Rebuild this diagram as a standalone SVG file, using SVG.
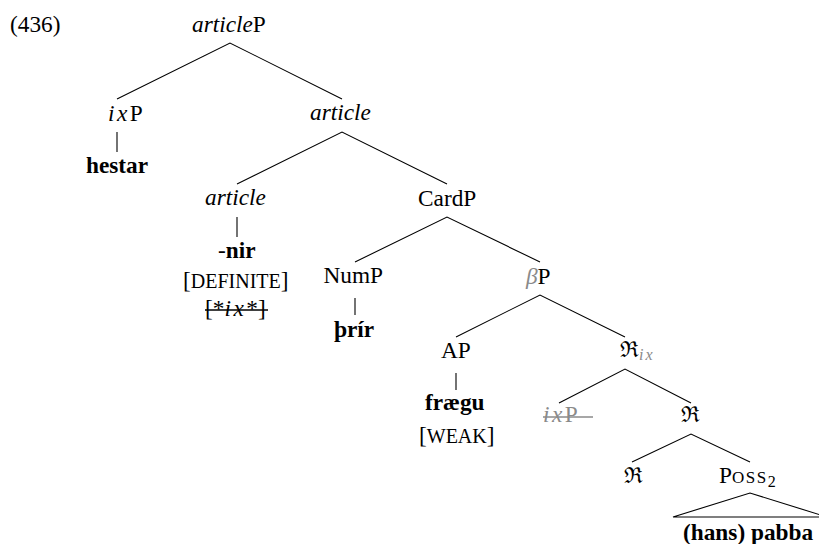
<svg xmlns="http://www.w3.org/2000/svg" width="819" height="544" viewBox="0 0 819 544">
<style>
text { font-family: 'Liberation Serif', 'Times New Roman', serif; font-size: 23.3px; fill: #000; }
.i { font-style: italic; }
.m { font-style: italic; letter-spacing: 2.5px; }
.b { font-weight: bold; }
.g { fill: #8a8a8a; }
.sc { font-size: 20px; }
.fr { font-family: 'DejaVu Serif', serif; font-size: 22px; }
.sub { font-size: 16px; }
.edge { stroke: #000; stroke-width: 1.1; fill: none; }
.strike { stroke: #000; stroke-width: 1.4; }
.strikeg { stroke: #8a8a8a; stroke-width: 1.4; }
</style>
<text id="ex-num" x="10" y="32">(436)</text>
<g id="connectors">
<path class="edge" d="M117,99 L230,43 L342,99"/>
<path class="edge" d="M117,132 L117,152"/>
<path class="edge" d="M237,184 L342,132 L447,184"/>
<path class="edge" d="M237,217 L237,237"/>
<path class="edge" d="M355,262 L447,217 L540,262"/>
<path class="edge" d="M355,298 L355,315"/>
<path class="edge" d="M456,337 L540,295 L625,337"/>
<path class="edge" d="M456,373 L456,390"/>
<path class="edge" d="M559,403 L625,369 L691,403"/>
<path class="edge" d="M632,462 L691,434 L750,462"/>
<path class="edge" d="M673,517 L750,493 L827,517 Z"/>
</g>
<g id="articleP"><text x="192" y="32"><tspan class="i">article</tspan>P</text></g>
<g id="ixP"><text x="108" y="121"><tspan class="m">ix</tspan>P</text></g>
<g id="hestar"><text class="b" x="86" y="173">hestar</text></g>
<g id="article-bar"><text class="i" x="310" y="120">article</text></g>
<g id="article-head"><text class="i" x="205" y="205">article</text></g>
<g id="nir">
<text x="218" y="258">-<tspan class="b">nir</tspan></text>
<text x="183" y="288">[<tspan class="sc">DEFINITE</tspan>]</text>
<text x="205" y="315.5">[*<tspan class="m">ix</tspan>*]</text>
<line class="strike" x1="205" y1="310" x2="268" y2="310"/>
</g>
<g id="CardP"><text x="418" y="206">CardP</text></g>
<g id="NumP"><text x="323.5" y="283">NumP</text></g>
<g id="thrir"><text class="b" x="334" y="337">þrír</text></g>
<g id="betaP"><text x="526" y="284"><tspan class="i g">β</tspan>P</text></g>
<g id="AP"><text x="441" y="358">AP</text></g>
<g id="fraegu">
<text class="b" x="425" y="409.5">frægu</text>
<text x="419" y="442.5">[<tspan class="sc">WEAK</tspan>]</text>
</g>
<g id="R-ix"><text x="620" y="357"><tspan class="fr">ℜ</tspan><tspan class="sub i g" dy="3" letter-spacing="2">ix</tspan></text></g>
<g id="ixP-trace">
<text class="g" x="543" y="422"><tspan class="m">ix</tspan>P</text>
<line class="strikeg" x1="543" y1="417" x2="593" y2="417"/>
</g>
<g id="R-bar"><text class="fr" x="681" y="422">ℜ</text></g>
<g id="R-head"><text class="fr" x="624" y="483">ℜ</text></g>
<g id="Poss2"><text x="719" y="483">P<tspan font-size="17" letter-spacing="1.5">OSS</tspan><tspan class="sub" dy="4">2</tspan></text></g>
<g id="hans-pabba"><text class="b" x="683" y="540">(hans) pabba</text></g>
</svg>
